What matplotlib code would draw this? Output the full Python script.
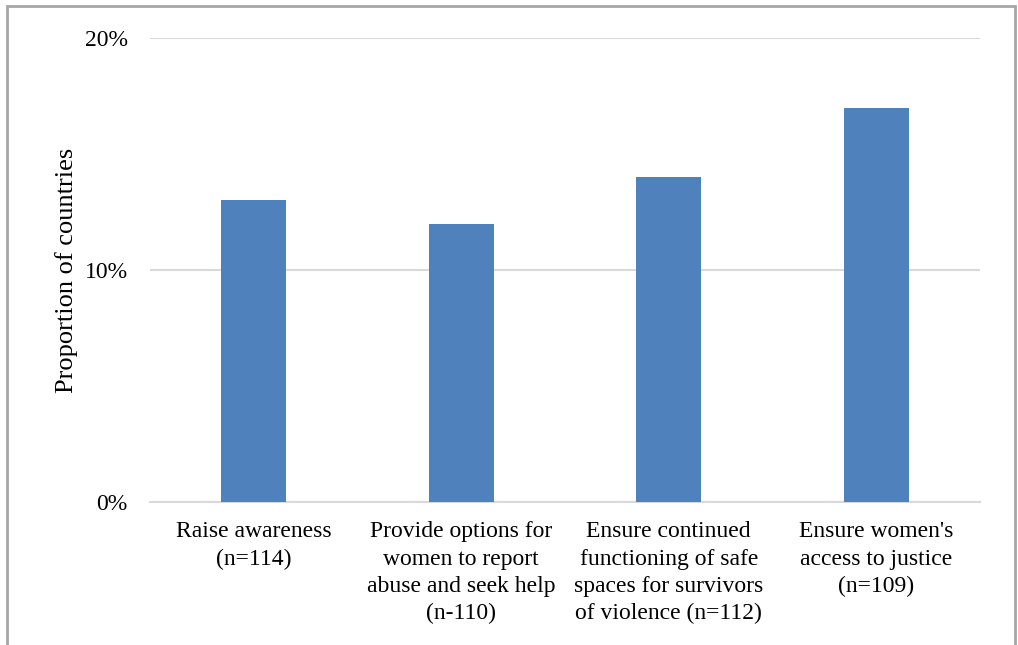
import matplotlib
matplotlib.use('Agg')
from matplotlib import pyplot as plt
from matplotlib.patches import Rectangle
from matplotlib.ticker import PercentFormatter

categories = [
    'Raise awareness\n(n=114)',
    'Provide options for\nwomen to report\nabuse and seek help\n(n-110)',
    'Ensure continued\nfunctioning of safe\nspaces for survivors\nof violence (n=112)',
    "Ensure women's\naccess to justice\n(n=109)",
]
values = [13, 12, 14, 17]
y_ticks = [0, 10, 20]

plt.rc('font', family=['Liberation Serif', 'DejaVu Serif'], size=17)

fig = plt.figure(figsize=(10.18, 6.45), dpi=100)
ax = fig.add_axes([150 / 1018, 1 - 502 / 645, 830 / 1018, 464 / 645])

x = range(len(values))
ax.bar(x, values, width=0.313, color='#4F81BD', zorder=3)

ax.set_xlim(-0.5, len(values) - 0.5)
ax.set_ylim(0, 20)
ax.set_yticks(y_ticks)
ax.yaxis.set_major_formatter(PercentFormatter(decimals=0))
ax.set_xticks(list(x))
ax.set_xticklabels(categories, linespacing=1.38)

ax.tick_params(axis='y', length=0, pad=16)
ax.tick_params(axis='x', length=0, pad=14)
for s in ['top', 'right', 'left']:
    ax.spines[s].set_visible(False)
ax.spines['bottom'].set_color('#D9D9D9')
ax.spines['bottom'].set_linewidth(1.5)
ax.grid(axis='y', color='#D9D9D9', linewidth=1.5, zorder=0)

ax.set_ylabel('Proportion of countries', fontsize=19, labelpad=5)

# outer chart border (bottom edge cut off like the source image)
fig.patches.append(Rectangle((7 / 1018, -0.05), 1008 / 1018, 1.05 - 6 / 645,
                             transform=fig.transFigure, fill=False,
                             edgecolor='#A6A6A6', linewidth=2))

fig.savefig('out.png', dpi=100, facecolor='white')
